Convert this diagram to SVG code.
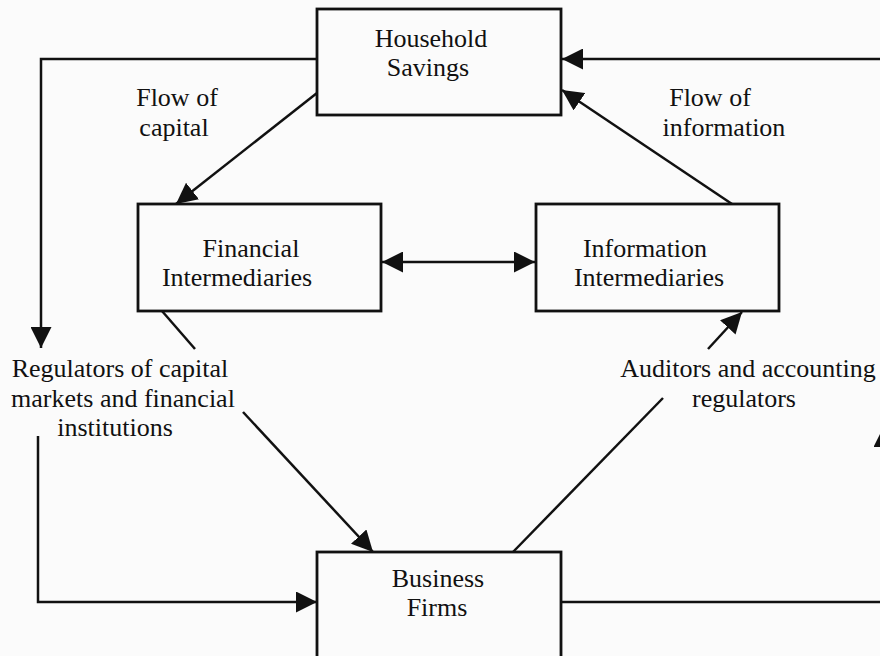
<svg xmlns="http://www.w3.org/2000/svg" width="880" height="656" viewBox="0 0 880 656">
<style>
.box{fill:none;stroke:#111;stroke-width:2.8}
.ln{fill:none;stroke:#111;stroke-width:2.5}
.arr{marker-end:url(#ah)}
text{font-family:"Liberation Serif","Times New Roman",serif;font-size:26px;fill:#111;text-anchor:middle}
</style>
<defs>
<marker id="ah" markerUnits="userSpaceOnUse" markerWidth="21" markerHeight="21" refX="21" refY="10.5" orient="auto-start-reverse" viewBox="0 0 21 21">
<path d="M0,0 L21,10.5 L0,21 z" fill="#111"/>
</marker>
</defs>
<rect width="880" height="656" fill="#fbfbfb"/>
<g id="connectors">
<polyline class="ln arr" points="317,59 41,59 41,348"/>
<line class="ln arr" x1="317" y1="93" x2="176" y2="204"/>
<line class="ln arr" x1="890" y1="59" x2="562" y2="59"/>
<line class="ln arr" x1="732" y1="204" x2="562" y2="90"/>
<line class="ln" x1="382" y1="262" x2="535" y2="262" marker-start="url(#ah)" marker-end="url(#ah)"/>
<line class="ln" x1="162" y1="311" x2="195" y2="349"/>
<line class="ln arr" x1="243" y1="412" x2="373" y2="552"/>
<polyline class="ln arr" points="38,436 38,602 317,602"/>
<line class="ln" x1="513" y1="552" x2="663" y2="398"/>
<line class="ln arr" x1="708" y1="349" x2="742" y2="312"/>
<polyline class="ln arr" points="561,602 884,602 884,426"/>
</g>
<g id="household">
<rect class="box" x="317" y="9" width="244" height="106"/>
<text x="431" y="47">Household</text>
<text x="428" y="76">Savings</text>
</g>
<g id="financial">
<rect class="box" x="138" y="204" width="243" height="107"/>
<text x="251" y="257">Financial</text>
<text x="237" y="286">Intermediaries</text>
</g>
<g id="information">
<rect class="box" x="536" y="204" width="243" height="107"/>
<text x="645" y="257">Information</text>
<text x="649" y="286">Intermediaries</text>
</g>
<g id="business">
<rect class="box" x="317" y="552" width="244" height="120"/>
<text x="438" y="587">Business</text>
<text x="437" y="616">Firms</text>
</g>
<g id="labels">
<text x="177" y="106">Flow of</text>
<text x="174" y="136">capital</text>
<text x="710" y="106">Flow of</text>
<text x="724" y="136">information</text>
<text x="120" y="377">Regulators of capital</text>
<text x="123" y="407">markets and financial</text>
<text x="115" y="436">institutions</text>
<text x="748" y="377">Auditors and accounting</text>
<text x="744" y="407">regulators</text>
</g>
</svg>
